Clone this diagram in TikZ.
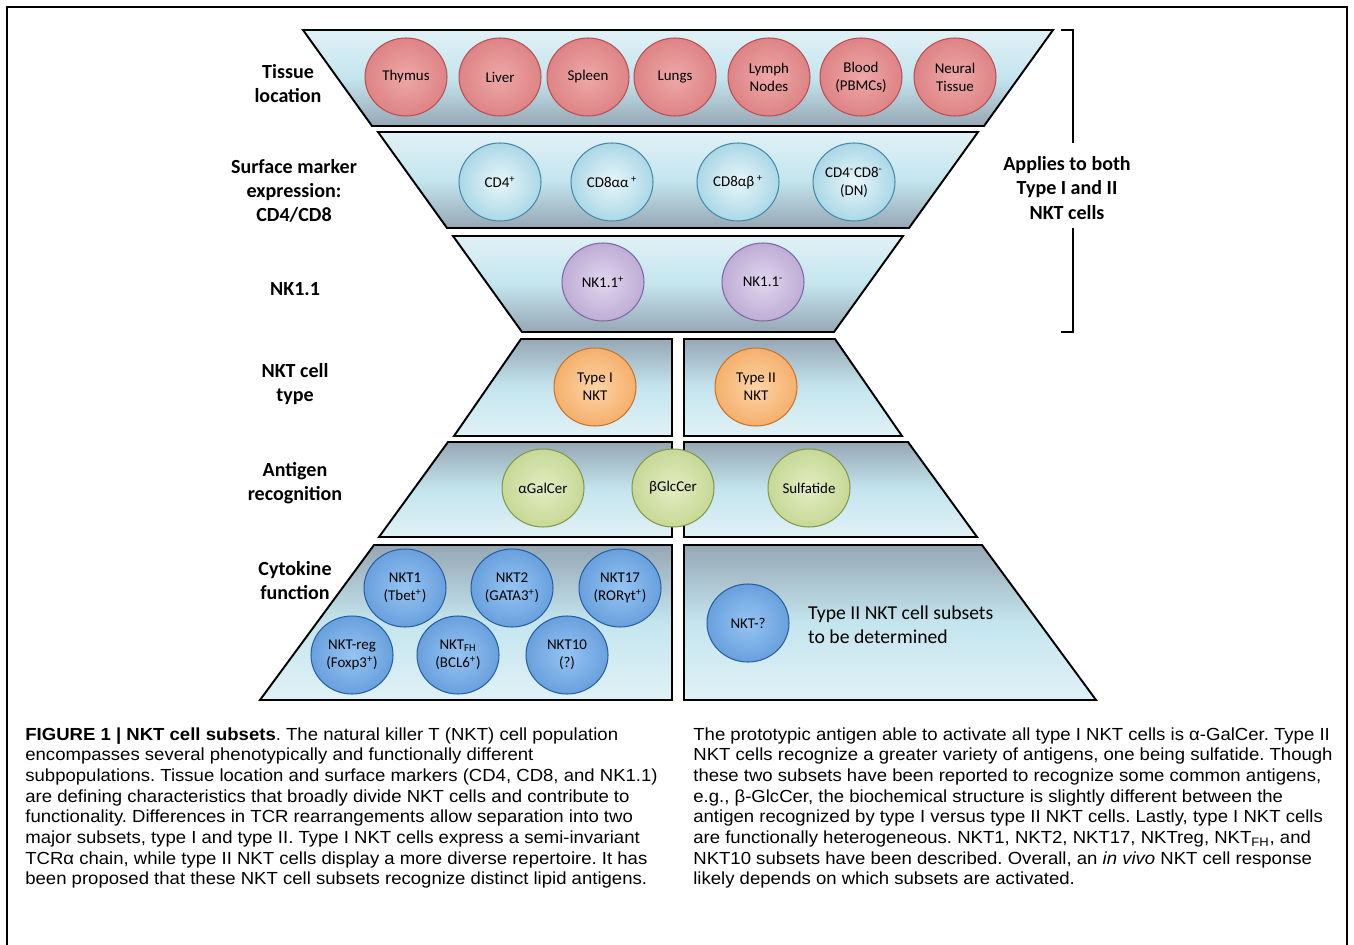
\documentclass[tikz,border=0pt]{standalone}
\usepackage{fontspec}
\setmainfont{Carlito}
\newfontfamily\capfont[FakeStretch=1.06]{Liberation Sans}
\usepackage{xcolor}
\usepackage{tikz}
\usetikzlibrary{shapes.geometric}

\definecolor{bandlight}{RGB}{224,241,246}
\definecolor{bandmid}{RGB}{196,229,238}
\definecolor{banddark}{RGB}{150,167,180}
\definecolor{redin}{RGB}{238,168,168}
\definecolor{redout}{RGB}{208,100,104}
\definecolor{redline}{RGB}{185,80,84}
\definecolor{cyanin}{RGB}{232,246,250}
\definecolor{cyanout}{RGB}{120,190,214}
\definecolor{cyanline}{RGB}{70,138,168}
\definecolor{lilacin}{RGB}{224,214,237}
\definecolor{lilacout}{RGB}{163,138,194}
\definecolor{lilacline}{RGB}{128,104,164}
\definecolor{orangein}{RGB}{253,212,165}
\definecolor{orangeout}{RGB}{238,145,62}
\definecolor{orangeline}{RGB}{205,115,40}
\definecolor{greenin}{RGB}{228,237,194}
\definecolor{greenout}{RGB}{174,198,114}
\definecolor{greenline}{RGB}{128,153,74}
\definecolor{bluein}{RGB}{150,196,242}
\definecolor{blueout}{RGB}{66,130,204}
\definecolor{blueline}{RGB}{40,95,162}

\makeatletter
\pgfdeclareradialshading[tikz@radial@inner,tikz@radial@outer]{cellglow}{\pgfpoint{0bp}{0bp}}%
  {color(0bp)=(tikz@radial@inner);color(46bp)=(tikz@radial@outer);color(50bp)=(tikz@radial@outer)}
\makeatother

\tikzset{
    band/.style={draw=black, line width=1.1pt, line join=miter},
    banddown/.style={band, top color=bandlight, bottom color=banddark, middle color=bandmid},
    bandup/.style={band, top color=banddark, bottom color=bandlight, middle color=bandmid},
    rowlabel/.style={align=center, font=\bfseries\fontsize{11.4}{13.7}\selectfont},
    cell/.style={ellipse, minimum width=1.64cm, minimum height=1.56cm, inner sep=0pt,
        align=center, font=\fontsize{8.5}{10.2}\selectfont, line width=0.6pt},
    redcell/.style={cell, draw=redline, inner color=redin, outer color=redout, shading=cellglow},
    cyancell/.style={cell, draw=cyanline, inner color=cyanin, outer color=cyanout, shading=cellglow},
    lilaccell/.style={cell, draw=lilacline, inner color=lilacin, outer color=lilacout, shading=cellglow},
    orangecell/.style={cell, draw=orangeline, inner color=orangein, outer color=orangeout, shading=cellglow},
    greencell/.style={cell, draw=greenline, inner color=greenin, outer color=greenout, shading=cellglow},
    bluecell/.style={cell, draw=blueline, inner color=bluein, outer color=blueout, shading=cellglow},
    bracket/.style={draw=black, line width=1pt},
    captext/.style={align=left, inner sep=0pt, anchor=north west,
        font=\capfont\frenchspacing\fontsize{9.96}{11.78}\selectfont},
}

\begin{document}
\begin{tikzpicture}[x=0.02cm, y=-0.02cm]
    \useasboundingbox (0,0) rectangle (1354,945);
    \draw[line width=0.6pt] (7,945) -- (7,7) -- (1347,7) -- (1347,945);

    \draw[banddown] (303,30) -- (1053,30) -- (984,126) -- (372,126) -- cycle;
    \draw[banddown] (378,132) -- (978,132) -- (909,228) -- (447,228) -- cycle;
    \draw[banddown] (453,236) -- (903,236) -- (834,332) -- (522,332) -- cycle;
    \draw[bandup] (521,339) -- (672,339) -- (672,436) -- (454,436) -- cycle;
    \draw[bandup] (684,339) -- (835,339) -- (902,436) -- (684,436) -- cycle;
    \draw[bandup] (448,442) -- (672,442) -- (672,537) -- (379,537) -- cycle;
    \draw[bandup] (684,442) -- (908,442) -- (977,537) -- (684,537) -- cycle;
    \draw[bandup] (374,545) -- (672,545) -- (672,700) -- (260,700) -- cycle;
    \draw[bandup] (684,545) -- (982,545) -- (1096,700) -- (684,700) -- cycle;

    \node[rowlabel] (tissue) at (288,84) {Tissue\\location};
    \node[rowlabel] (surface) at (294,191) {Surface marker\\expression:\\CD4/CD8};
    \node[rowlabel] (nkone) at (295,289) {NK1.1};
    \node[rowlabel] (nkttype) at (295,384) {NKT cell\\type};
    \node[rowlabel] (antigen) at (295,483) {Antigen\\recognition};
    \node[rowlabel] (cytokine) at (295,581) {Cytokine\\function};

    \node[redcell] (thymus) at (406,77) {Thymus};
    \node[redcell] (liver) at (500,77) {Liver};
    \node[redcell] (spleen) at (588,77) {Spleen};
    \node[redcell] (lungs) at (675,77) {Lungs};
    \node[redcell] (lymph) at (769,77) {Lymph\\Nodes};
    \node[redcell] (blood) at (861,77) {Blood\\(PBMCs)};
    \node[redcell] (neural) at (955,77) {Neural\\Tissue};

    \node[cyancell] (cdfour) at (500,182) {CD4\textsuperscript{+}};
    \node[cyancell] (cdaa) at (612,182) {CD8αα\,\textsuperscript{+}};
    \node[cyancell] (cdab) at (738,182) {CD8αβ\,\textsuperscript{+}};
    \node[cyancell] (cddn) at (854,182) {CD4\textsuperscript{-}CD8\textsuperscript{-}\\(DN)};

    \node[lilaccell] (nkpos) at (603,282) {NK1.1\textsuperscript{+}};
    \node[lilaccell] (nkneg) at (763,282) {NK1.1\textsuperscript{-}};

    \node[orangecell] (typeone) at (595,387) {Type I\\NKT};
    \node[orangecell] (typetwo) at (756,387) {Type II\\NKT};

    \node[greencell] (agal) at (543,488) {αGalCer};
    \node[greencell] (bglc) at (673,488) {βGlcCer};
    \node[greencell] (sulf) at (809,488) {Sulfatide};

    \node[bluecell] (nktone) at (405,588) {NKT1\\(Tbet\textsuperscript{+})};
    \node[bluecell] (nkttwo) at (512,588) {NKT2\\(GATA3\textsuperscript{+})};
    \node[bluecell] (nktseventeen) at (620,588) {NKT17\\(RORγt\textsuperscript{+})};
    \node[bluecell] (nktreg) at (352,655) {NKT-reg\\(Foxp3\textsuperscript{+})};
    \node[bluecell] (nktfh) at (458,655) {NKT\textsubscript{FH}\\(BCL6\textsuperscript{+})};
    \node[bluecell] (nktten) at (567,655) {NKT10\\(?)};
    \node[bluecell] (nktq) at (748,623) {NKT-?};
    \node[align=left, anchor=west, font=\fontsize{11.2}{13.7}\selectfont] (tbd) at (802,625)
        {Type II NKT cell subsets\\to be determined};

    \node[rowlabel] (both) at (1067,188) {Applies to both\\Type I and II\\NKT cells};
    \draw[bracket] (1061,30) -- (1073,30) -- (1073,143);
    \draw[bracket] (1073,228) -- (1073,332) -- (1061,332);

    \node[captext] (capleft) at (25,727)
        {\textbf{FIGURE 1 | NKT cell subsets}. The natural killer T (NKT) cell population\\
        encompasses several phenotypically and functionally different\\
        subpopulations. Tissue location and surface markers (CD4, CD8, and NK1.1)\\
        are defining characteristics that broadly divide NKT cells and contribute to\\
        functionality. Differences in TCR rearrangements allow separation into two\\
        major subsets, type I and type II. Type I NKT cells express a semi-invariant\\
        TCRα chain, while type II NKT cells display a more diverse repertoire. It has\\
        been proposed that these NKT cell subsets recognize distinct lipid antigens.};
    \node[captext] (capright) at (693,727)
        {The prototypic antigen able to activate all type I NKT cells is α-GalCer. Type II\\
        NKT cells recognize a greater variety of antigens, one being sulfatide. Though\\
        these two subsets have been reported to recognize some common antigens,\\
        e.g., β-GlcCer, the biochemical structure is slightly different between the\\
        antigen recognized by type I versus type II NKT cells. Lastly, type I NKT cells\\
        are functionally heterogeneous. NKT1, NKT2, NKT17, NKTreg, NKT\textsubscript{FH}, and\\
        NKT10 subsets have been described. Overall, an \textit{in vivo} NKT cell response\\
        likely depends on which subsets are activated.};
\end{tikzpicture}
\end{document}
